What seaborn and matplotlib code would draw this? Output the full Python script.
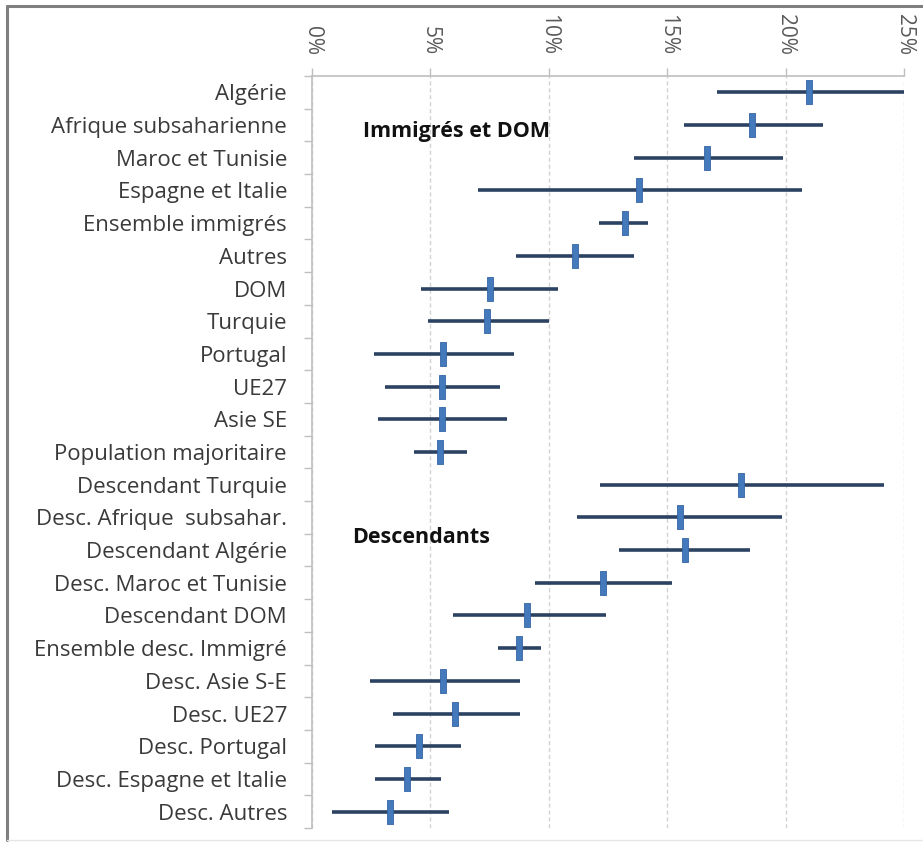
import matplotlib
matplotlib.use("Agg")
import matplotlib.pyplot as plt
from matplotlib.path import Path
from matplotlib.lines import Line2D
from matplotlib.ticker import FixedLocator, PercentFormatter
import numpy as np
import pandas as pd
import seaborn as sns

# categories, top to bottom
labels = ["Algérie", "Afrique subsaharienne", "Maroc et Tunisie", "Espagne et Italie",
          "Ensemble immigrés", "Autres", "DOM", "Turquie", "Portugal", "UE27", "Asie SE",
          "Population majoritaire",
          "Descendant Turquie", "Desc. Afrique  subsahar.", "Descendant Algérie",
          "Desc. Maroc et Tunisie", "Descendant DOM", "Ensemble desc. Immigré",
          "Desc. Asie S-E", "Desc. UE27", "Desc. Portugal", "Desc. Espagne et Italie",
          "Desc. Autres"]
# estimate (%) and confidence interval bounds
mid = [21.0, 18.6, 16.7, 13.8, 13.2, 11.1, 7.5, 7.4, 5.55, 5.5, 5.5, 5.4,
       18.1, 15.55, 15.75, 12.3, 9.1, 8.75, 5.55, 6.05, 4.5, 4.0, 3.3]
low = [17.1, 15.7, 13.6, 7.0, 12.1, 8.6, 4.6, 4.9, 2.6, 3.1, 2.8, 4.3,
       12.15, 11.2, 12.95, 9.4, 5.95, 7.85, 2.45, 3.4, 2.65, 2.65, 0.85]
high = [25.0, 21.6, 19.9, 20.7, 14.2, 13.6, 10.4, 10.0, 8.55, 7.95, 8.25, 6.55,
        24.15, 19.85, 18.5, 15.2, 12.4, 9.65, 8.8, 8.8, 6.3, 5.45, 5.8]
x_ticks = [0, 5, 10, 15, 20, 25]

df = pd.DataFrame({"label": labels, "mid": mid, "low": low, "high": high})

sns.set_style("white")
plt.rcParams["font.family"] = ["Open Sans", "DejaVu Sans"]

fig = plt.figure(figsize=(9.23, 8.42), dpi=100)
ax = fig.add_axes([312 / 923, 1 - 828 / 842, (904 - 312) / 923, (828 - 76) / 842])

pos = np.arange(len(df))
ax.hlines(pos, df["low"], df["high"], color="#2c4263", lw=2.6, zorder=2)

rect = Path([(-0.13, -0.5), (0.13, -0.5), (0.13, 0.5), (-0.13, 0.5), (-0.13, -0.5)],
            [Path.MOVETO, Path.LINETO, Path.LINETO, Path.LINETO, Path.CLOSEPOLY])
sns.stripplot(data=df, x="mid", y="label", order=labels, jitter=False, ax=ax,
              marker=rect, size=17, color="#4479bb", edgecolor="#3566a6",
              linewidth=0.6, zorder=3)

ax.set_xlim(0, 25)
ax.set_ylim(len(df) - 0.5, -0.5)
ax.set_xlabel("")
ax.set_ylabel("")

ax.xaxis.tick_top()
ax.xaxis.set_major_locator(FixedLocator(x_ticks))
ax.xaxis.set_major_formatter(PercentFormatter(decimals=0))
ax.tick_params(axis="x", top=True, bottom=False, length=6, width=1, color="#bfbfbf",
               labelsize=15, labelcolor="#595959", pad=9, labelrotation=-90)
for t in ax.get_xticklabels():
    t.set_va("bottom")

ax.yaxis.set_minor_locator(FixedLocator(np.arange(len(df) + 1) - 0.5))
ax.tick_params(axis="y", which="major", length=0, labelsize=16, labelcolor="#3a3a3a", pad=18)
ax.tick_params(axis="y", which="minor", left=True, length=6, width=1, color="#bfbfbf")

ax.grid(axis="x", color="#d2d2d2", lw=1, ls=(0, (3, 2)))
ax.grid(axis="y", visible=False)
for side in ["right", "bottom"]:
    ax.spines[side].set_visible(False)
for side in ["top", "left"]:
    ax.spines[side].set_color("#bfbfbf")
    ax.spines[side].set_linewidth(1.2)

ax.text(2.15, 1.2, "Immigrés et DOM", fontsize=15.5, fontweight="bold", color="#111111",
        va="center", ha="left")
ax.text(1.7, 13.6, "Descendants", fontsize=15.5, fontweight="bold", color="#111111",
        va="center", ha="left")

# outer frame
fig.add_artist(Line2D([7 / 923, 7 / 923], [1 - 6 / 842, 1 - 840 / 842], color="#7f7f7f", lw=2.2))
fig.add_artist(Line2D([7 / 923, 1], [1 - 6 / 842, 1 - 6 / 842], color="#7f7f7f", lw=2.2))
fig.add_artist(Line2D([7 / 923, 1], [1 - 840 / 842, 1 - 840 / 842], color="#e6e6e6", lw=1))

fig.savefig("out.png", dpi=100)
